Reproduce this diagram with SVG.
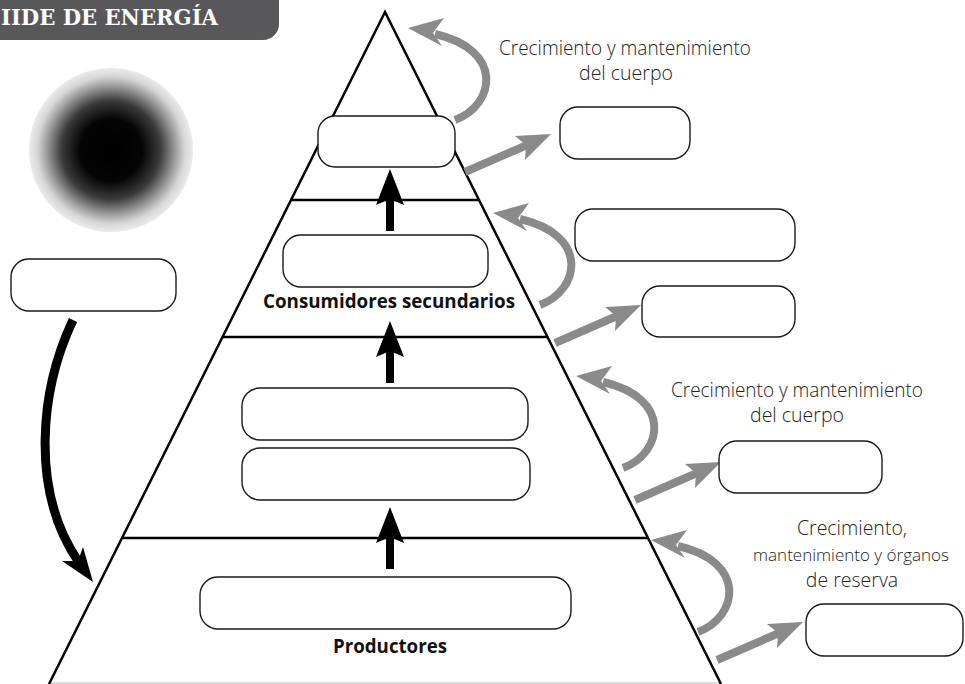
<svg xmlns="http://www.w3.org/2000/svg" xmlns:xlink="http://www.w3.org/1999/xlink" width="965" height="684" viewBox="0 0 965 684">
<defs>
<style>
.box{fill:#fff;stroke:#1a1a1a;stroke-width:1.4}
.edge{stroke:#000;stroke-width:2.5;fill:none}
.lvl{stroke:#000;stroke-width:2.5}
.note{font-family:"Open Sans","Liberation Sans",sans-serif;font-weight:300;font-size:19.5px;fill:#222;text-anchor:middle}
.lab{font-family:"Open Sans","Liberation Sans",sans-serif;font-weight:700;font-size:19px;fill:#111;text-anchor:middle}
.gshaft{stroke:#8a8a8a;stroke-width:8;fill:none}
.ghead{fill:#8a8a8a}
</style>
<radialGradient id="sunGrad" cx="0.5" cy="0.5" r="0.5">
<stop offset="0" stop-color="#000"/>
<stop offset="0.38" stop-color="#050505"/>
<stop offset="0.6" stop-color="#3a3a3a"/>
<stop offset="0.78" stop-color="#9a9a9a"/>
<stop offset="0.9" stop-color="#d6d6d6"/>
<stop offset="1" stop-color="#ebebeb"/>
</radialGradient>
<g id="upArrow">
<polygon points="0,0 -14,36 0,30 14,36" fill="#000"/>
<rect x="-4" y="29" width="8" height="33" fill="#000"/>
</g>
<g id="curvedArrow">
<path class="gshaft" d="M0,0 C40,-15 50,-70 -20,-86"/>
<polygon class="ghead" points="-47,-92 -11,-102 -22,-87 -13,-74"/>
</g>
<g id="straightArrow">
<line class="gshaft" x1="0" y1="0" x2="62" y2="-27"/>
<polygon class="ghead" points="86,-38 60,-12 61,-27 50,-36"/>
</g>
</defs>
<rect x="0" y="0" width="965" height="684" fill="#fff"/>

<g id="header">
<rect x="-20" y="-20" width="299" height="60" rx="16" fill="#58585a"/>
<text x="1" y="25" font-family="'DejaVu Serif','Liberation Serif',serif" font-weight="700" font-size="22" fill="#fff" textLength="217" lengthAdjust="spacingAndGlyphs">IIDE DE ENERGÍA</text>
</g>

<g id="sun">
<circle cx="111" cy="150" r="82" fill="url(#sunGrad)"/>
</g>

<g id="pyramid">
<line x1="49" y1="683" x2="721" y2="683" stroke="#cfcfcf" stroke-width="1.5"/>
<polyline class="edge" points="49,684 385,12 721,684"/>
<line class="lvl" x1="291" y1="200" x2="479" y2="200"/>
<line class="lvl" x1="222" y1="337" x2="548" y2="337"/>
<line class="lvl" x1="122" y1="538" x2="648" y2="538"/>
</g>

<g id="connectors">
<use xlink:href="#upArrow" x="390" y="169"/>
<use xlink:href="#upArrow" x="390" y="321"/>
<use xlink:href="#upArrow" x="390" y="507"/>
<use xlink:href="#curvedArrow" x="455" y="120"/>
<use xlink:href="#curvedArrow" x="540" y="305"/>
<use xlink:href="#curvedArrow" x="623" y="468"/>
<use xlink:href="#curvedArrow" x="698" y="632"/>
<use xlink:href="#straightArrow" x="465" y="172"/>
<use xlink:href="#straightArrow" x="555" y="343"/>
<use xlink:href="#straightArrow" x="635" y="500"/>
<use xlink:href="#straightArrow" x="717" y="660"/>
<path d="M73,320 C40,390 30,490 78,561" stroke="#000" stroke-width="9" fill="none"/>
<polygon points="93,582 62,561 78,561 83,547" fill="#000"/>
</g>

<g id="box-top"><rect class="box" x="318" y="116" width="137" height="51" rx="17"/></g>
<g id="box-top-right"><rect class="box" x="560" y="107" width="130" height="52" rx="18"/></g>
<g id="box-secondary"><rect class="box" x="283" y="235" width="205" height="52" rx="18"/></g>
<g id="box-right-2a"><rect class="box" x="575" y="209" width="220" height="52" rx="18"/></g>
<g id="box-right-2b"><rect class="box" x="642" y="286" width="153" height="51" rx="18"/></g>
<g id="box-primary-a"><rect class="box" x="242" y="388" width="286" height="52" rx="18"/></g>
<g id="box-primary-b"><rect class="box" x="242" y="448" width="288" height="52" rx="18"/></g>
<g id="box-right-3"><rect class="box" x="719" y="441" width="163" height="52" rx="18"/></g>
<g id="box-producers"><rect class="box" x="200" y="577" width="371" height="52" rx="18"/></g>
<g id="box-right-4"><rect class="box" x="806" y="604" width="157" height="52" rx="18"/></g>
<g id="box-left"><rect class="box" x="11" y="259" width="165" height="52" rx="18"/></g>

<g id="labels">
<text class="lab" x="389" y="308" textLength="252" lengthAdjust="spacingAndGlyphs">Consumidores secundarios</text>
<text class="lab" x="390" y="653" textLength="114" lengthAdjust="spacingAndGlyphs">Productores</text>
</g>

<g id="notes">
<text class="note" x="852" y="535">Crecimiento,</text>
<text class="note" x="851" y="561" style="font-size:17px">mantenimiento y órganos</text>
<text class="note" x="852" y="587">de reserva</text>
<text class="note" x="625" y="55" textLength="252" lengthAdjust="spacingAndGlyphs">Crecimiento y mantenimiento</text>
<text class="note" x="626" y="80">del cuerpo</text>
<text class="note" x="797" y="397" textLength="252" lengthAdjust="spacingAndGlyphs">Crecimiento y mantenimiento</text>
<text class="note" x="797" y="422">del cuerpo</text>
</g>
</svg>
